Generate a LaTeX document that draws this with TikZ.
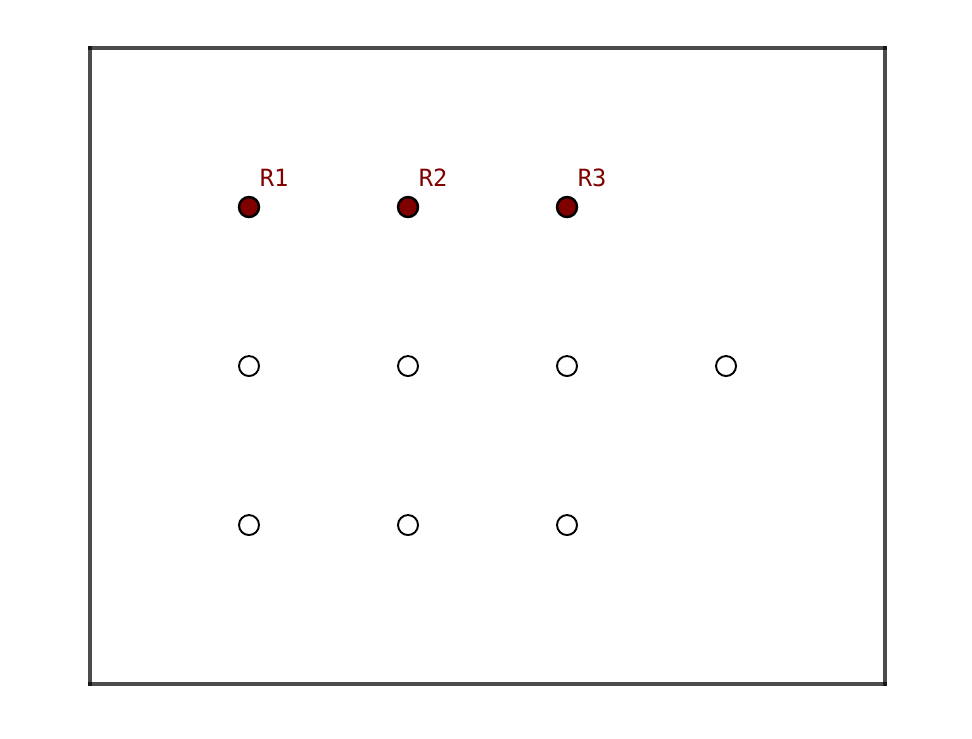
\documentclass[tikz,border=0pt]{standalone}
\usepackage{fontspec}
\setmonofont{DejaVu Sans Mono}
\usetikzlibrary{positioning}
\definecolor{rdark}{RGB}{128,0,0}

\begin{document}
\begin{tikzpicture}[x=3.18cm,y=3.18cm,
	site/.style={circle,draw=black,line width=1.1pt,fill=white,minimum size=0.4cm,inner sep=0pt},
	robot/.style={site,fill=rdark,line width=1.4pt},
	rlabel/.style={text=rdark,font=\ttfamily\fontsize{13.5}{13.5}\selectfont,inner sep=0pt},
	wall/.style={draw=black,draw opacity=0.7,line width=2.3pt,line cap=rect}]
	 \useasboundingbox (-1.566,-3.340) rectangle (4.547,1.302);
	 %Frame
	 \coordinate (c1) at (-1,1);
	 \coordinate (c2) at (4,1);
	 \coordinate (c3) at (4,-3);
	 \coordinate (c4) at (-1,-3);
	 \draw[wall] (c1) -- (c2);
	 \draw[wall] (c2) -- (c3);
	 \draw[wall] (c3) -- (c4);
	 \draw[wall] (c4) -- (c1);
	 %Free sites
	 \foreach \x in {0,1,2,3} \node[site] (s1\x) at (\x,-1) {};
	 \foreach \x in {0,1,2} \node[site] (s2\x) at (\x,-2) {};
	 %Robots
	 \foreach \x [evaluate=\x as \n using int(\x+1)] in {0,1,2} {
	 \node[robot] (r\n) at (\x,0) {};
	 \node[rlabel,above right=0.24cm and 0.05cm of r\n] (l\n) {R\n};
	 }
\end{tikzpicture}
\end{document}
